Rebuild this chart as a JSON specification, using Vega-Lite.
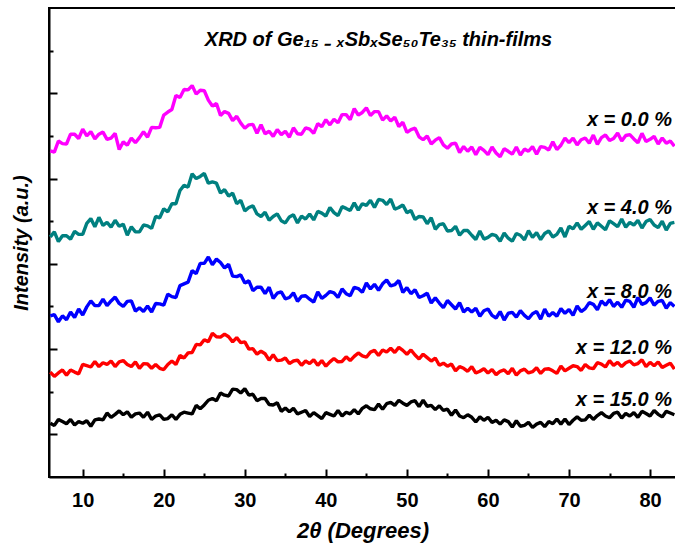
{
  "$schema": "https://vega.github.io/schema/vega-lite/v6.json",
  "width": 627,
  "height": 469,
  "autosize": {"type": "none"},
  "padding": {"left": 49, "top": 8, "right": 0, "bottom": 75},
  "background": "white",
  "title": {
    "text": "XRD of Ge₁₅ ₋ ₓSbₓSe₅₀Te₃₅ thin-films",
    "font": "Liberation Sans",
    "fontSize": 20,
    "fontStyle": "italic",
    "fontWeight": "bold",
    "color": "black",
    "anchor": "middle",
    "offset": -42,
    "dx": 16
  },
  "config": {
    "view": {"stroke": "black", "strokeWidth": 2},
    "axis": {
      "grid": false,
      "domainColor": "black",
      "domainWidth": 2,
      "tickColor": "black",
      "tickWidth": 2,
      "labelFont": "Liberation Sans",
      "labelColor": "black",
      "titleFont": "Liberation Sans",
      "titleColor": "black"
    }
  },
  "datasets": {
    "xrd": [
      {
        "t": [6,6.5,7,7.5,8,8.5,9,9.5,10,10.5,11,11.5,12,12.5,13,13.5,14,14.5,15,15.5,16,16.5,17,17.5,18,18.5,19,19.5,20,20.5,21,21.5,22,22.5,23,23.5,24,24.5,25,25.5,26,26.5,27,27.5,28,28.5,29,29.5,30,30.5,31,31.5,32,32.5,33,33.5,34,34.5,35,35.5,36,36.5,37,37.5,38,38.5,39,39.5,40,40.5,41,41.5,42,42.5,43,43.5,44,44.5,45,45.5,46,46.5,47,47.5,48,48.5,49,49.5,50,50.5,51,51.5,52,52.5,53,53.5,54,54.5,55,55.5,56,56.5,57,57.5,58,58.5,59,59.5,60,60.5,61,61.5,62,62.5,63,63.5,64,64.5,65,65.5,66,66.5,67,67.5,68,68.5,69,69.5,70,70.5,71,71.5,72,72.5,73,73.5,74,74.5,75,75.5,76,76.5,77,77.5,78,78.5,79,79.5,80,80.5,81,81.5,82,82.5,83],
        "m": [765,762,788,782,781,804,804,794,816,800,810,793,804,809,792,795,806,768,786,778,795,784,796,810,797,820,819,820,849,856,862,895,890,909,908,918,898,907,906,884,870,876,848,857,853,836,846,830,818,826,827,806,826,805,811,799,815,803,811,797,819,805,804,819,816,806,829,822,838,826,839,831,850,850,838,864,849,855,866,848,857,857,837,847,835,844,822,832,808,815,818,798,791,800,781,790,796,779,771,781,783,761,775,764,774,756,773,766,756,774,760,751,770,764,757,774,755,769,764,775,757,775,773,767,786,768,778,795,784,795,779,791,795,783,802,780,796,802,789,794,807,788,801,803,793,784,806,787,792,799,781,795,783,788,776],
        "c": [563,575,552,566,566,558,576,569,569,595,606,587,609,590,597,586,602,588,593,567,587,575,575,591,589,583,611,608,629,622,641,641,672,684,680,711,700,705,712,689,692,689,666,674,659,666,641,649,624,632,636,617,611,621,602,611,617,601,596,610,615,596,612,605,617,603,623,619,612,632,620,613,634,630,625,643,626,641,637,649,632,651,649,639,652,628,632,638,620,625,604,611,610,594,608,581,592,594,577,578,588,567,578,578,567,557,577,558,562,569,566,553,572,560,553,571,567,556,578,562,573,557,571,577,563,569,584,563,588,582,596,581,590,599,581,596,588,580,601,594,587,605,586,597,591,602,584,599,604,591,585,600,579,595,597],
        "b": [378,381,364,378,369,387,374,394,380,399,413,402,402,417,402,413,422,407,400,412,413,389,397,388,401,387,407,406,403,429,423,421,449,453,457,484,477,501,501,516,498,511,503,490,499,471,470,474,455,460,437,445,445,430,445,419,431,434,418,421,432,412,424,425,417,410,434,419,426,435,432,421,441,430,425,445,442,433,455,441,452,438,453,462,448,451,461,433,444,430,439,421,425,431,408,420,408,397,414,404,394,409,387,396,387,396,377,390,394,379,373,388,368,384,386,375,390,379,371,383,388,370,394,377,386,377,395,384,393,379,401,388,395,409,405,392,413,403,416,400,410,398,415,412,398,421,405,409,420,403,412,414,396,409,400],
        "r": [246,236,244,251,239,251,246,242,264,261,258,271,259,268,264,272,259,270,273,264,259,270,255,266,265,255,264,255,252,264,272,264,285,279,291,292,311,310,322,317,337,329,328,335,329,317,327,315,317,300,301,288,295,289,274,287,273,274,279,266,272,274,262,272,266,275,262,273,260,270,278,270,271,282,273,283,291,284,281,293,297,285,298,293,302,292,304,297,288,298,286,277,288,280,272,279,262,267,260,265,249,259,255,248,259,244,248,254,244,252,240,248,251,242,255,239,249,253,244,247,256,243,253,254,249,243,260,249,255,261,259,250,264,256,254,268,265,258,273,262,269,259,268,272,263,266,275,259,269,261,270,257,262,267,253],
        "k": [126,121,135,130,125,135,122,130,126,132,119,134,136,134,150,140,147,155,146,153,140,148,150,140,152,135,143,146,135,137,146,135,147,152,150,148,168,160,169,180,184,179,197,192,190,206,205,197,207,192,194,179,184,184,170,169,174,154,162,153,161,148,152,156,142,151,144,137,151,147,143,156,143,152,148,158,148,161,167,160,158,171,159,172,175,168,180,173,168,176,179,165,180,166,168,158,167,156,159,145,157,143,139,146,140,129,141,133,140,128,133,124,134,130,117,132,119,121,128,116,124,128,118,130,125,136,124,136,123,133,141,133,134,145,135,144,151,143,139,149,152,138,149,143,151,140,154,149,143,156,147,141,154,150,146]
      }
    ],
    "labels": [
      {"s": "x = 0.0 %", "t": 82.7, "y": 837},
      {"s": "x = 4.0 %", "t": 82.7, "y": 631},
      {"s": "x = 8.0 %", "t": 82.7, "y": 434},
      {"s": "x = 12.0 %", "t": 82.7, "y": 302},
      {"s": "x = 15.0 %", "t": 82.7, "y": 181}
    ]
  },
  "layer": [
    {
      "data": {"name": "xrd"},
      "transform": [
        {"flatten": ["t", "m", "c", "b", "r", "k"]},
        {"fold": ["m", "c", "b", "r", "k"]}
      ],
      "mark": {"type": "line", "strokeWidth": 3.4, "strokeJoin": "bevel", "clip": true},
      "encoding": {
        "x": {
          "field": "t",
          "type": "quantitative",
          "scale": {"domain": [5.84, 83.2], "nice": false, "zero": false},
          "axis": {
            "values": [10, 20, 30, 40, 50, 60, 70, 80],
            "tickSize": -8,
            "labelFontSize": 20,
            "labelFontWeight": "bold",
            "labelPadding": 21,
            "title": "2θ  (Degrees)",
            "titleFontSize": 22,
            "titleFontWeight": "bold",
            "titleFontStyle": "italic",
            "titlePadding": 10
          }
        },
        "y": {
          "field": "value",
          "type": "quantitative",
          "scale": {"domain": [0, 1100], "nice": false, "zero": false},
          "axis": {
            "values": [100, 300, 500, 700, 900],
            "tickSize": -8,
            "labels": false,
            "title": "Intensity (a.u.)",
            "titleFontSize": 20,
            "titleFontWeight": "bold",
            "titleFontStyle": "italic",
            "titlePadding": 17
          }
        },
        "color": {
          "field": "key",
          "type": "nominal",
          "scale": {
            "domain": ["m", "c", "b", "r", "k"],
            "range": ["#FF00FF", "#008080", "#0000FF", "#FF0000", "#000000"]
          },
          "legend": null
        }
      }
    },
    {
      "data": {"name": "labels"},
      "mark": {
        "type": "text",
        "align": "right",
        "baseline": "middle",
        "font": "Liberation Sans",
        "fontSize": 20,
        "fontStyle": "italic",
        "fontWeight": "bold",
        "color": "black"
      },
      "encoding": {
        "x": {
          "field": "t",
          "type": "quantitative",
          "axis": {
            "orient": "bottom",
            "values": [15, 25, 35, 45, 55, 65, 75],
            "tickSize": -4,
            "labels": false,
            "domain": false,
            "title": null
          }
        },
        "y": {
          "field": "y",
          "type": "quantitative",
          "axis": {
            "orient": "left",
            "values": [200, 400, 600, 800, 1000],
            "tickSize": -4,
            "labels": false,
            "domain": false,
            "title": null
          }
        },
        "text": {"field": "s"}
      }
    }
  ],
  "resolve": {"axis": {"x": "independent", "y": "independent"}}
}
